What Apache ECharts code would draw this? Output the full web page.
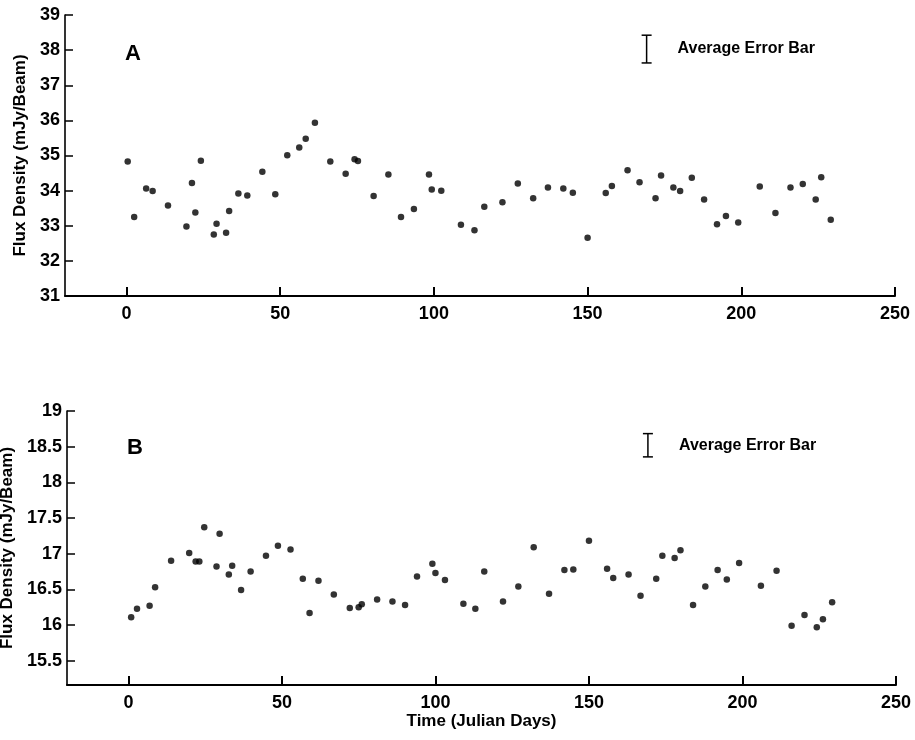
<!DOCTYPE html>
<html>
<head>
<meta charset="utf-8">
<script src="https://cdn.jsdelivr.net/npm/echarts@6/dist/echarts.min.js"></script>
<style>
html,body{margin:0;padding:0;background:#fff;}
#chart{width:915px;height:740px;}
</style>
</head>
<body>
<div id="chart"></div>
<script>
// Panel A: Flux density (mJy/Beam) vs time (Julian days)
const daysA = [0.4,2.5,6.4,8.5,13.5,19.5,21.3,22.4,24.2,28.4,29.3,32.4,33.4,36.4,39.3,44.2,48.4,52.3,56.2,58.3,61.3,66.3,71.3,74.2,75.3,80.4,85.2,89.3,93.5,98.4,99.3,102.4,108.8,113.2,116.4,122.3,127.3,132.3,137.1,142.1,145.2,150,155.9,157.9,163,166.9,172.1,173.9,177.9,180.1,183.9,187.9,192.1,195,199,206,211.1,216,220,224.2,226,229.1];
const fluxA = [34.83,33.25,34.06,33.99,33.58,32.98,34.22,33.38,34.85,32.75,33.06,32.8,33.42,33.92,33.86,34.54,33.9,35.01,35.23,35.48,35.93,34.83,34.48,34.89,34.84,33.85,34.46,33.25,33.48,34.46,34.03,34.0,33.03,32.87,33.54,33.67,34.2,33.78,34.09,34.06,33.94,32.66,33.93,34.13,34.58,34.24,33.78,34.43,34.09,33.99,34.37,33.75,33.04,33.28,33.09,34.12,33.36,34.09,34.19,33.75,34.38,33.17];
// Panel B
const daysB = [0.9,2.8,6.9,8.7,13.9,19.8,21.9,23.1,24.7,28.7,29.7,32.7,33.8,36.7,39.8,44.8,48.7,52.8,56.8,59,61.9,66.9,72.1,75,76,81,86,90.1,94,99,100,103.1,109.1,113,115.9,122,127,132,137,142,144.9,150,155.9,157.9,162.9,166.8,171.9,173.9,177.9,179.8,183.9,187.9,191.9,194.9,198.9,206,211.1,216,220.2,224.2,226.2,229.2];
const fluxB = [16.11,16.23,16.27,16.53,16.9,17.01,16.89,16.89,17.37,16.82,17.28,16.71,16.83,16.49,16.75,16.97,17.11,17.06,16.65,16.17,16.62,16.43,16.24,16.25,16.29,16.36,16.33,16.28,16.68,16.86,16.73,16.63,16.3,16.23,16.75,16.33,16.54,17.09,16.44,16.77,16.78,17.18,16.79,16.66,16.71,16.41,16.65,16.97,16.94,17.05,16.28,16.54,16.77,16.64,16.87,16.55,16.76,15.99,16.14,15.97,16.08,16.32];
// Average error bars: [day, centre, half-length]
const errA = [[169.2, 38.03, 0.395]];
const errB = [[169.2, 18.52, 0.163]];
const xTicks = [0, 50, 100, 150, 200, 250];
const yTicksA = [31, 32, 33, 34, 35, 36, 37, 38, 39];
const yTicksB = [15.5, 16, 16.5, 17, 17.5, 18, 18.5, 19];
const panelLabels = ['A', 'B'];
const legendText = 'Average Error Bar';
const yName = 'Flux Density (mJy/Beam)';
const xName = 'Time (Julian Days)';

const FONT = '"Liberation Sans", Arial, Helvetica, sans-serif';
const chart = echarts.init(document.getElementById('chart'), null, {renderer: 'canvas'});

function zip(a, b) { return a.map((v, i) => [v, b[i]]); }

function xAxisCfg(gridIndex, withName) {
  const c = {
    type: 'value', gridIndex, min: -20, max: 250,
    axisLine: {show: true, onZero: false, lineStyle: {color: '#000', width: 2}},
    axisTick: {show: true, inside: true, length: 9, customValues: xTicks, lineStyle: {color: '#000', width: 2}},
    axisLabel: {customValues: xTicks, color: '#000', fontFamily: FONT, fontSize: 18, fontWeight: 'bold', margin: 9},
    splitLine: {show: false}
  };
  if (withName) {
    Object.assign(c, {name: xName, nameLocation: 'middle', nameGap: 28,
      nameTextStyle: {color: '#000', fontFamily: FONT, fontSize: 17, fontWeight: 'bold'}});
  }
  return c;
}
function yAxisCfg(gridIndex, min, max, ticks, gap) {
  return {
    type: 'value', gridIndex, min, max,
    name: yName, nameLocation: 'middle', nameGap: gap,
    nameTextStyle: {color: '#000', fontFamily: FONT, fontSize: 17, fontWeight: 'bold'},
    axisLine: {show: true, onZero: false, lineStyle: {color: '#000', width: 1.6}},
    axisTick: {show: true, inside: true, length: 8, customValues: ticks, lineStyle: {color: '#000', width: 1.5}},
    axisLabel: {customValues: ticks, color: '#000', fontFamily: FONT, fontSize: 18, fontWeight: 'bold', margin: 5},
    splitLine: {show: false}
  };
}
function errSeries(idx, data) {
  return {
    type: 'custom', xAxisIndex: idx, yAxisIndex: idx, data, silent: true,
    renderItem: function (params, api) {
      const top = api.coord([api.value(0), api.value(1) + api.value(2)]);
      const bot = api.coord([api.value(0), api.value(1) - api.value(2)]);
      const mid = api.coord([api.value(0), api.value(1)]);
      const hw = 5;
      const st = {stroke: '#000', lineWidth: 1.5};
      return {type: 'group', children: [
        {type: 'line', shape: {x1: top[0], y1: top[1], x2: bot[0], y2: bot[1]}, style: st},
        {type: 'line', shape: {x1: top[0] - hw, y1: top[1], x2: top[0] + hw, y2: top[1]}, style: st},
        {type: 'line', shape: {x1: bot[0] - hw, y1: bot[1], x2: bot[0] + hw, y2: bot[1]}, style: st},
        {type: 'text', style: {x: mid[0] + 31, y: mid[1], text: legendText, fill: '#000',
          font: 'bold 16px ' + FONT, textAlign: 'left', textVerticalAlign: 'middle'}}
      ]};
    }
  };
}
function dots(idx, data) {
  return {type: 'scatter', xAxisIndex: idx, yAxisIndex: idx, data, symbol: 'circle', symbolSize: 6.5,
    itemStyle: {color: '#000'}, silent: true};
}

chart.setOption({
  animation: false,
  backgroundColor: '#fff',
  grid: [
    {left: 65, top: 15, width: 830, height: 281, outerBoundsMode: 'none', containLabel: false},
    {left: 67, top: 411, width: 829, height: 274, outerBoundsMode: 'none', containLabel: false}
  ],
  xAxis: [xAxisCfg(0, false), xAxisCfg(1, true)],
  yAxis: [yAxisCfg(0, 31, 39, yTicksA, 30), yAxisCfg(1, 15.16, 19, yTicksB, 50)],
  series: [
    dots(0, zip(daysA, fluxA)),
    dots(1, zip(daysB, fluxB)),
    errSeries(0, errA),
    errSeries(1, errB)
  ],
  graphic: [
    {type: 'text', left: 125, top: 43, style: {text: panelLabels[0], fill: '#000', font: 'bold 22px ' + FONT}},
    {type: 'text', left: 127, top: 437, style: {text: panelLabels[1], fill: '#000', font: 'bold 22px ' + FONT}}
  ]
});
</script>
</body>
</html>
